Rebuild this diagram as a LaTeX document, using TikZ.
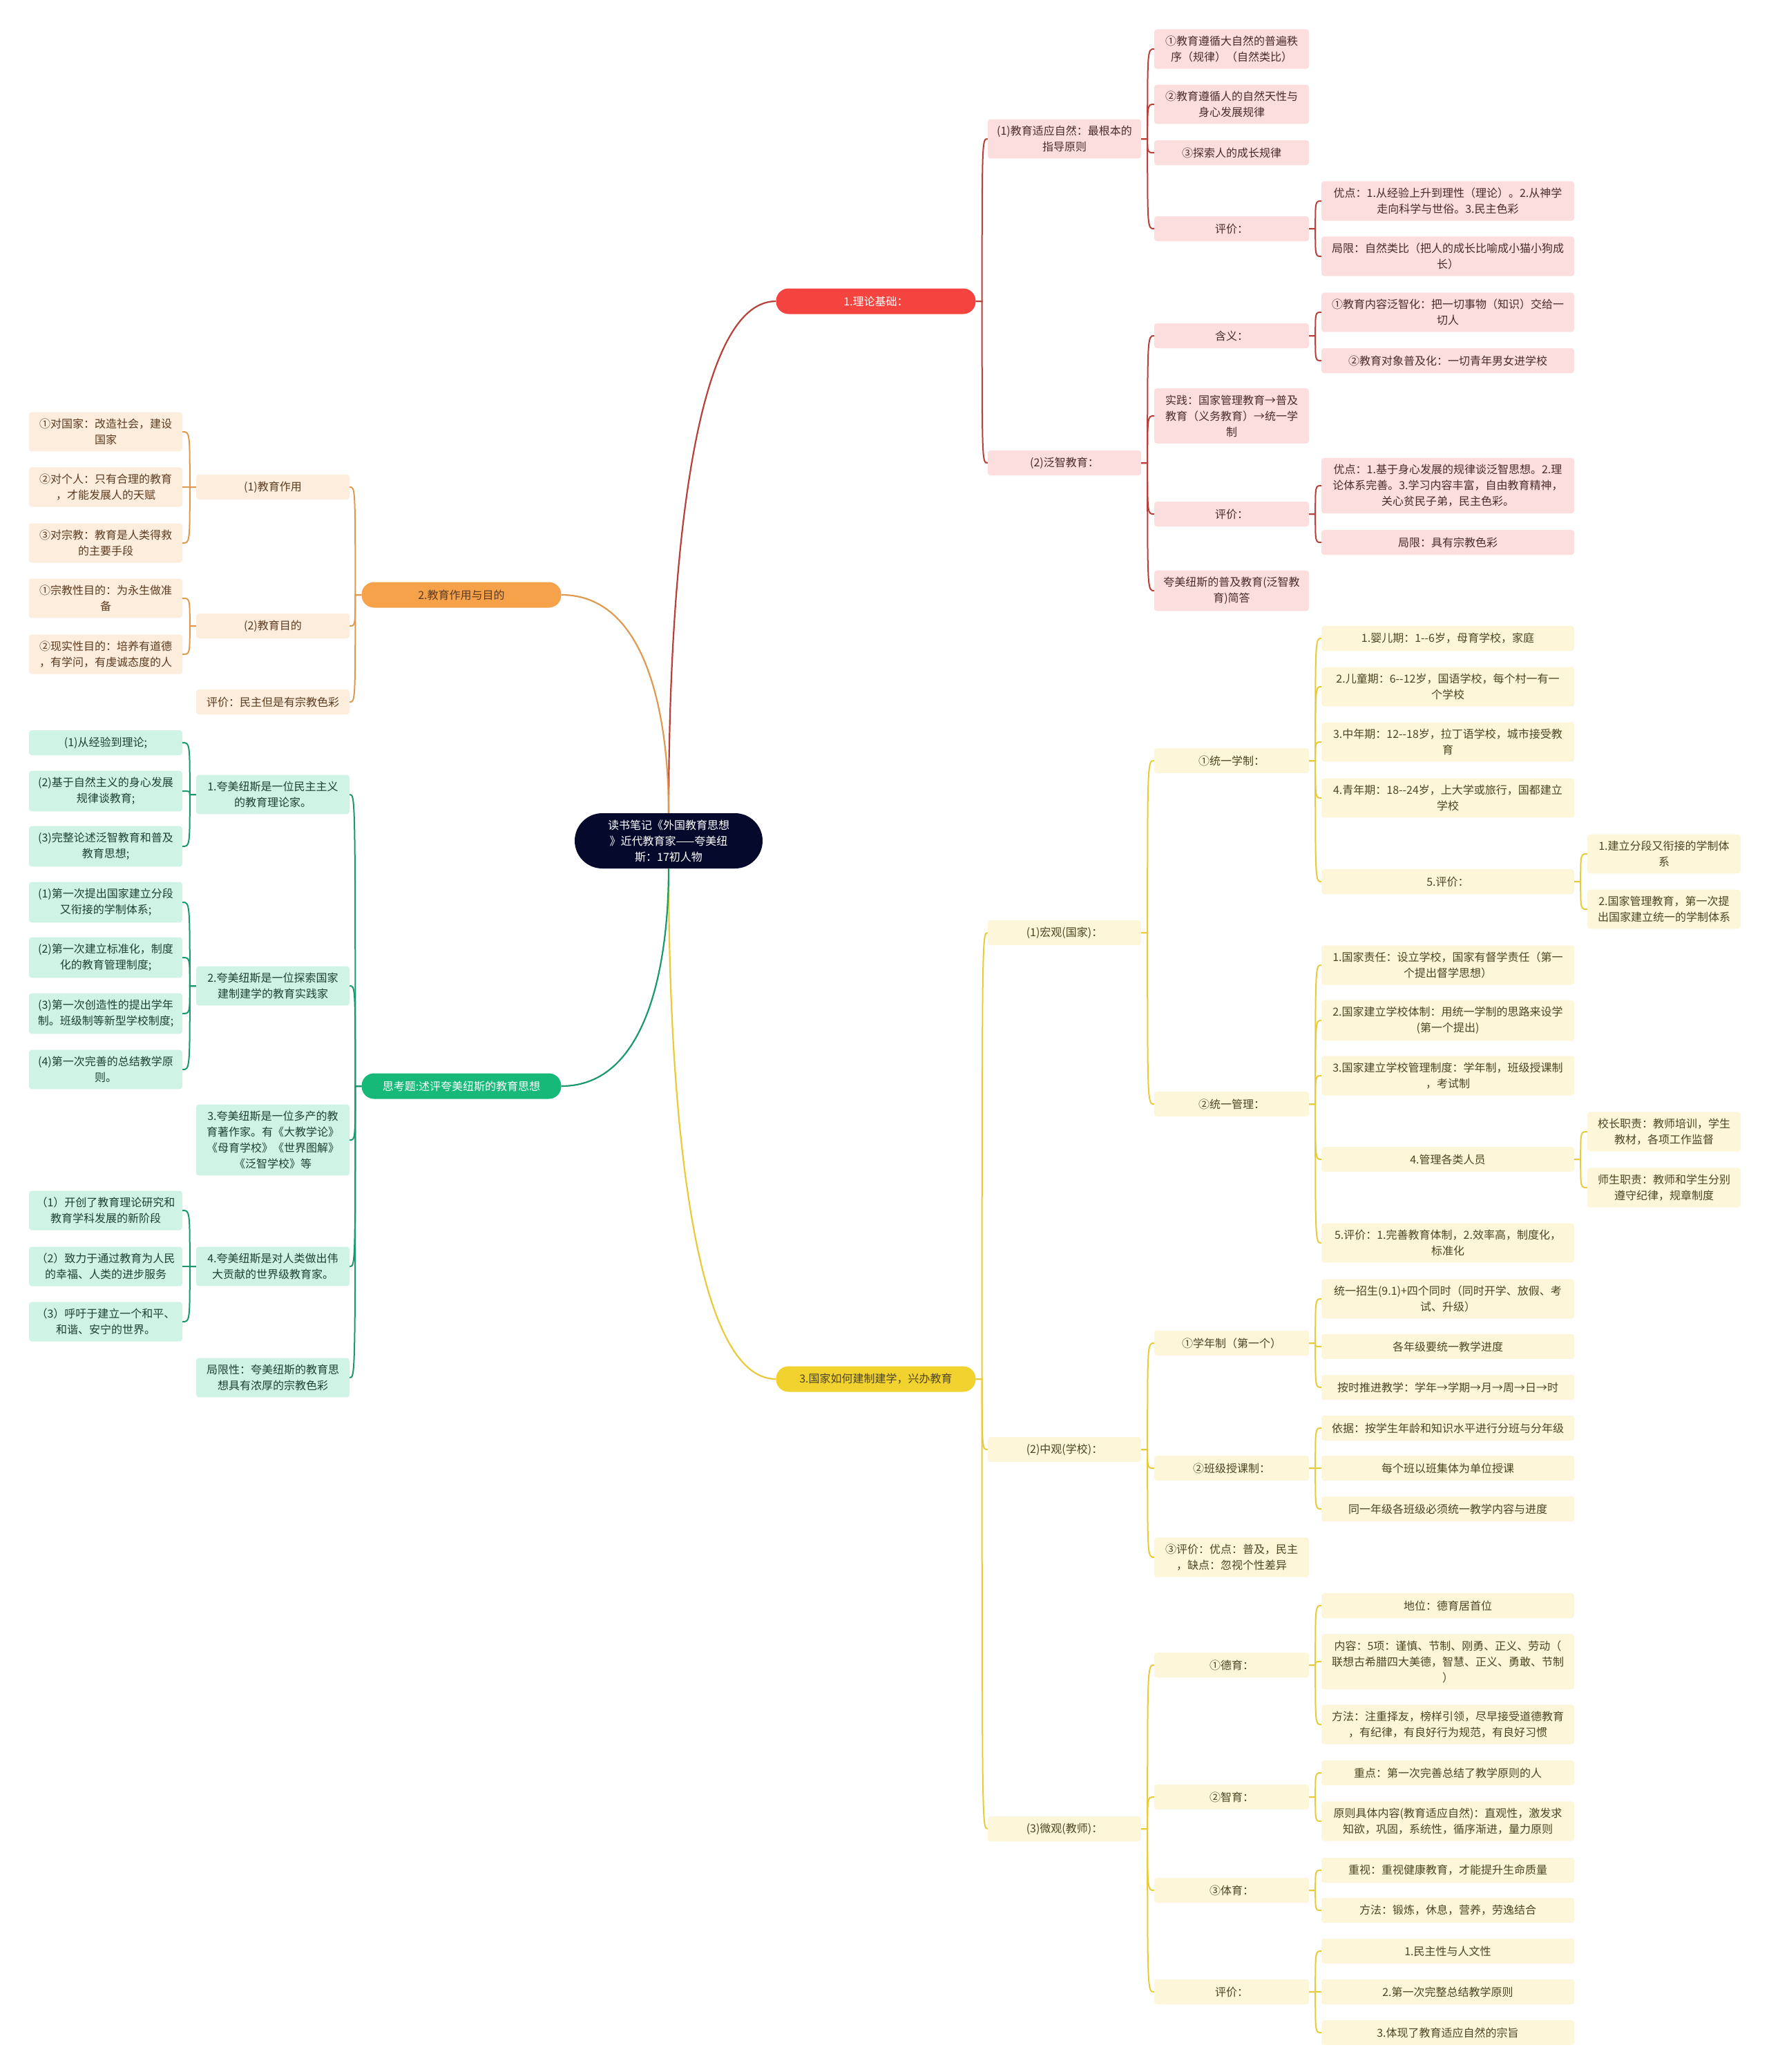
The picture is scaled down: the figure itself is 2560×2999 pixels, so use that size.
\documentclass[tikz,border=0pt]{standalone}
\usepackage{fontspec}
\setmainfont{Noto Sans CJK SC}
\usetikzlibrary{calc}
\definecolor{rmain}{HTML}{F5443F}
\definecolor{rfill}{HTML}{FDDEDE}
\definecolor{rline}{HTML}{B8403A}
\definecolor{rtext}{HTML}{4A2B2B}
\definecolor{omain}{HTML}{F5A24B}
\definecolor{ofill}{HTML}{FDEDDD}
\definecolor{oline}{HTML}{DE9A50}
\definecolor{otext}{HTML}{5C3A1E}
\definecolor{ymain}{HTML}{F2D22E}
\definecolor{yfill}{HTML}{FEF6D8}
\definecolor{yline}{HTML}{E9CB3A}
\definecolor{ytext}{HTML}{4D4420}
\definecolor{gmain}{HTML}{17B978}
\definecolor{gfill}{HTML}{CFF3E4}
\definecolor{gline}{HTML}{1A9A6C}
\definecolor{gtext}{HTML}{1E4035}
\definecolor{rootc}{HTML}{050A2D}
\newcommand\fs{\fontsize{16}{23}\selectfont}
\newcommand\rlink[3]{\path (#2.east) ++(9,0) coordinate (jj); \draw[#1] (#2.east) -- (jj) .. controls (jj |- #3.west) .. (#3.west);}
\newcommand\llink[3]{\path (#2.west) ++(-9,0) coordinate (jj); \draw[#1] (#2.west) -- (jj) .. controls (jj |- #3.east) .. (#3.east);}
\tikzset{
 bx/.style={rectangle, rounded corners=4pt, inner xsep=4pt, inner ysep=9.5pt, align=center, font=\fs, minimum height=36pt},
 wa/.style={minimum width=222pt},
 wb/.style={minimum width=224pt},
 wc/.style={minimum width=366pt},
 rb/.style={bx, fill=rfill, text=rtext},
 ob/.style={bx, fill=ofill, text=otext},
 yb/.style={bx, fill=yfill, text=ytext},
 gb/.style={bx, fill=gfill, text=gtext},
 pill/.style={rectangle, rounded corners=18pt, minimum width=289pt, minimum height=37pt, inner sep=2pt, font=\fs},
 rl/.style={rline, line width=2pt},
 ol/.style={oline, line width=2pt},
 yl/.style={yline, line width=2pt},
 gl/.style={gline, line width=2pt},
}
\begin{document}
\begin{tikzpicture}[x=1pt,y=-1pt]
\fill[white] (0,0) rectangle (2560,2999);
\useasboundingbox (0,0) rectangle (2560,2999);
% root
\node[rectangle, rounded corners=40pt, fill=rootc, text=white, minimum width=272pt, minimum height=80pt, align=center, font=\fs, inner sep=4pt] (root) at (968,1217) {读书笔记《外国教育思想\\》近代教育家——夸美纽\\斯：17初人物};
% level 1
\node[pill, fill=rmain, text=white] (r1) at (1268,436) {1.理论基础：};
\node[pill, fill=omain, text=otext] (o1) at (668,861) {2.教育作用与目的};
\node[pill, fill=ymain, text=ytext] (y1) at (1268,1996) {3.国家如何建制建学，兴办教育};
\node[pill, fill=gmain, text=white] (g1) at (668,1572) {思考题:述评夸美纽斯的教育思想};
% red
\node[rb,wa] (rA) at (1541,201) {(1)教育适应自然：最根本的\\指导原则};
\node[rb,wa] (rB) at (1541,670) {(2)泛智教育：};
\node[rb,wb] (rA1) at (1783,71) {①教育遵循大自然的普遍秩\\序（规律）（自然类比）};
\node[rb,wb] (rA2) at (1783,151) {②教育遵循人的自然天性与\\身心发展规律};
\node[rb,wb] (rA3) at (1783,221) {③探索人的成长规律};
\node[rb,wb] (rA4) at (1783,331) {评价：};
\node[rb,wc] (rA41) at (2096,291) {优点：1.从经验上升到理性（理论）。2.从神学\\走向科学与世俗。3.民主色彩};
\node[rb,wc] (rA42) at (2096,371) {局限：自然类比（把人的成长比喻成小猫小狗成\\长）};
\node[rb,wb] (rB1) at (1783,486) {含义：};
\node[rb,wb] (rB2) at (1783,602) {实践：国家管理教育→普及\\教育（义务教育）→统一学\\制};
\node[rb,wb] (rB3) at (1783,744) {评价：};
\node[rb,wb] (rB4) at (1783,855) {夸美纽斯的普及教育(泛智教\\育)简答};
\node[rb,wc] (rB11) at (2096,452) {①教育内容泛智化：把一切事物（知识）交给一\\切人};
\node[rb,wc] (rB12) at (2096,522) {②教育对象普及化：一切青年男女进学校};
\node[rb,wc] (rB31) at (2096,703) {优点：1.基于身心发展的规律谈泛智思想。2.理\\论体系完善。3.学习内容丰富，自由教育精神，\\关心贫民子弟，民主色彩。};
\node[rb,wc] (rB32) at (2096,785) {局限：具有宗教色彩};
% yellow
\node[yb,wa] (yA) at (1541,1350) {(1)宏观(国家)：};
\node[yb,wa] (yB) at (1541,2098) {(2)中观(学校)：};
\node[yb,wa] (yC) at (1541,2647) {(3)微观(教师)：};
\node[yb,wb] (yA1) at (1783,1101) {①统一学制：};
\node[yb,wb] (yA2) at (1783,1598) {②统一管理：};
\node[yb,wc] (yA11) at (2096,924) {1.婴儿期：1-{}-6岁，母育学校，家庭};
\node[yb,wc] (yA12) at (2096,994) {2.儿童期：6-{}-12岁，国语学校，每个村一有一\\个学校};
\node[yb,wc] (yA13) at (2096,1074) {3.中年期：12-{}-18岁，拉丁语学校，城市接受教\\育};
\node[yb,wc] (yA14) at (2096,1155) {4.青年期：18-{}-24岁，上大学或旅行，国都建立\\学校};
\node[yb,wc] (yA15) at (2096,1276) {5.评价：};
\node[yb,wa] (yA151) at (2409,1236) {1.建立分段又衔接的学制体\\系};
\node[yb,wa] (yA152) at (2409,1316) {2.国家管理教育，第一次提\\出国家建立统一的学制体系};
\node[yb,wc] (yA21) at (2096,1397) {1.国家责任：设立学校，国家有督学责任（第一\\个提出督学思想）};
\node[yb,wc] (yA22) at (2096,1477) {2.国家建立学校体制：用统一学制的思路来设学\\(第一个提出)};
\node[yb,wc] (yA23) at (2096,1557) {3.国家建立学校管理制度：学年制，班级授课制\\，考试制};
\node[yb,wc] (yA24) at (2096,1678) {4.管理各类人员};
\node[yb,wc] (yA25) at (2096,1799) {5.评价：1.完善教育体制，2.效率高，制度化，\\标准化};
\node[yb,wa] (yA241) at (2409,1638) {校长职责：教师培训，学生\\教材，各项工作监督};
\node[yb,wa] (yA242) at (2409,1719) {师生职责：教师和学生分别\\遵守纪律，规章制度};
\node[yb,wb] (yB1) at (1783,1944) {①学年制（第一个）};
\node[yb,wb] (yB2) at (1783,2125) {②班级授课制：};
\node[yb,wb] (yB3) at (1783,2254) {③评价：优点：普及，民主\\，缺点：忽视个性差异};
\node[yb,wc] (yB11) at (2096,1880) {统一招生(9.1)+四个同时（同时开学、放假、考\\试、升级）};
\node[yb,wc] (yB12) at (2096,1949) {各年级要统一教学进度};
\node[yb,wc] (yB13) at (2096,2008) {按时推进教学：学年→学期→月→周→日→时};
\node[yb,wc] (yB21) at (2096,2067) {依据：按学生年龄和知识水平进行分班与分年级};
\node[yb,wc] (yB22) at (2096,2125) {每个班以班集体为单位授课};
\node[yb,wc] (yB23) at (2096,2184) {同一年级各班级必须统一教学内容与进度};
\node[yb,wb] (yC1) at (1783,2410) {①德育：};
\node[yb,wb] (yC2) at (1783,2601) {②智育：};
\node[yb,wb] (yC3) at (1783,2736) {③体育：};
\node[yb,wb] (yC4) at (1783,2883) {评价：};
\node[yb,wc] (yC11) at (2096,2324) {地位：德育居首位};
\node[yb,wc] (yC12) at (2096,2405) {内容：5项：谨慎、节制、刚勇、正义、劳动（\\联想古希腊四大美德，智慧、正义、勇敢、节制\\）};
\node[yb,wc] (yC13) at (2096,2496) {方法：注重择友，榜样引领，尽早接受道德教育\\，有纪律，有良好行为规范，有良好习惯};
\node[yb,wc] (yC21) at (2096,2566) {重点：第一次完善总结了教学原则的人};
\node[yb,wc] (yC22) at (2096,2636) {原则具体内容(教育适应自然)：直观性，激发求\\知欲，巩固，系统性，循序渐进，量力原则};
\node[yb,wc] (yC31) at (2096,2707) {重视：重视健康教育，才能提升生命质量};
\node[yb,wc] (yC32) at (2096,2765) {方法：锻炼，休息，营养，劳逸结合};
\node[yb,wc] (yC41) at (2096,2824) {1.民主性与人文性};
\node[yb,wc] (yC42) at (2096,2883) {2.第一次完整总结教学原则};
\node[yb,wc] (yC43) at (2096,2942) {3.体现了教育适应自然的宗旨};
% orange
\node[ob,wa] (oA) at (395,705) {(1)教育作用};
\node[ob,wa] (oB) at (395,906) {(2)教育目的};
\node[ob,wa] (oC) at (395,1016) {评价：民主但是有宗教色彩};
\node[ob,wa] (oA1) at (153,625) {①对国家：改造社会，建设\\国家};
\node[ob,wa] (oA2) at (153,705) {②对个人：只有合理的教育\\，才能发展人的天赋};
\node[ob,wa] (oA3) at (153,786) {③对宗教：教育是人类得救\\的主要手段};
\node[ob,wa] (oB1) at (153,866) {①宗教性目的：为永生做准\\备};
\node[ob,wa] (oB2) at (153,947) {②现实性目的：培养有道德\\，有学问，有虔诚态度的人};
% green
\node[gb,wa] (gA) at (395,1150) {1.夸美纽斯是一位民主主义\\的教育理论家。};
\node[gb,wa] (gB) at (395,1427) {2.夸美纽斯是一位探索国家\\建制建学的教育实践家};
\node[gb,wa] (gC) at (395,1650) {3.夸美纽斯是一位多产的教\\育著作家。有《大教学论》\\《母育学校》《世界图解》\\《泛智学校》等};
\node[gb,wa] (gD) at (395,1833) {4.夸美纽斯是对人类做出伟\\大贡献的世界级教育家。};
\node[gb,wa] (gE) at (395,1994) {局限性：夸美纽斯的教育思\\想具有浓厚的宗教色彩};
\node[gb,wa] (gA1) at (153,1075) {(1)从经验到理论;};
\node[gb,wa] (gA2) at (153,1145) {(2)基于自然主义的身心发展\\规律谈教育;};
\node[gb,wa] (gA3) at (153,1225) {(3)完整论述泛智教育和普及\\教育思想;};
\node[gb,wa] (gB1) at (153,1306) {(1)第一次提出国家建立分段\\又衔接的学制体系;};
\node[gb,wa] (gB2) at (153,1386) {(2)第一次建立标准化，制度\\化的教育管理制度;};
\node[gb,wa] (gB3) at (153,1467) {(3)第一次创造性的提出学年\\制。班级制等新型学校制度;};
\node[gb,wa] (gB4) at (153,1548) {(4)第一次完善的总结教学原\\则。};
\node[gb,wa] (gD1) at (153,1752) {（1）开创了教育理论研究和\\教育学科发展的新阶段};
\node[gb,wa] (gD2) at (153,1833) {（2）致力于通过教育为人民\\的幸福、人类的进步服务};
\node[gb,wa] (gD3) at (153,1913) {（3）呼吁于建立一个和平、\\和谐、安宁的世界。};
% root connectors
\draw[rl, line width=2.2pt] (root.north) .. controls (968,851) and (999,436) .. (r1.west);
\draw[yl, line width=2.2pt] (root.south) .. controls (968,1582) and (999,1996) .. (y1.west);
\draw[ol, line width=2.2pt] (root.north) .. controls (968,1038) and (937,861) .. (o1.east);
\draw[gl, line width=2.2pt] (root.south) .. controls (968,1396) and (937,1572) .. (g1.east);
% red links
\foreach \c in {rA,rB} {\rlink{rl}{r1}{\c}}
\foreach \c in {rA1,rA2,rA3,rA4} {\rlink{rl}{rA}{\c}}
\foreach \c in {rA41,rA42} {\rlink{rl}{rA4}{\c}}
\foreach \c in {rB1,rB2,rB3,rB4} {\rlink{rl}{rB}{\c}}
\foreach \c in {rB11,rB12} {\rlink{rl}{rB1}{\c}}
\foreach \c in {rB31,rB32} {\rlink{rl}{rB3}{\c}}
% yellow links
\foreach \c in {yA,yB,yC} {\rlink{yl}{y1}{\c}}
\foreach \c in {yA1,yA2} {\rlink{yl}{yA}{\c}}
\foreach \c in {yA11,yA12,yA13,yA14,yA15} {\rlink{yl}{yA1}{\c}}
\foreach \c in {yA151,yA152} {\rlink{yl}{yA15}{\c}}
\foreach \c in {yA21,yA22,yA23,yA24,yA25} {\rlink{yl}{yA2}{\c}}
\foreach \c in {yA241,yA242} {\rlink{yl}{yA24}{\c}}
\foreach \c in {yB1,yB2,yB3} {\rlink{yl}{yB}{\c}}
\foreach \c in {yB11,yB12,yB13} {\rlink{yl}{yB1}{\c}}
\foreach \c in {yB21,yB22,yB23} {\rlink{yl}{yB2}{\c}}
\foreach \c in {yC1,yC2,yC3,yC4} {\rlink{yl}{yC}{\c}}
\foreach \c in {yC11,yC12,yC13} {\rlink{yl}{yC1}{\c}}
\foreach \c in {yC21,yC22} {\rlink{yl}{yC2}{\c}}
\foreach \c in {yC31,yC32} {\rlink{yl}{yC3}{\c}}
\foreach \c in {yC41,yC42,yC43} {\rlink{yl}{yC4}{\c}}
% orange links
\foreach \c in {oA,oB,oC} {\llink{ol}{o1}{\c}}
\foreach \c in {oA1,oA2,oA3} {\llink{ol}{oA}{\c}}
\foreach \c in {oB1,oB2} {\llink{ol}{oB}{\c}}
% green links
\foreach \c in {gA,gB,gC,gD,gE} {\llink{gl}{g1}{\c}}
\foreach \c in {gA1,gA2,gA3} {\llink{gl}{gA}{\c}}
\foreach \c in {gB1,gB2,gB3,gB4} {\llink{gl}{gB}{\c}}
\foreach \c in {gD1,gD2,gD3} {\llink{gl}{gD}{\c}}
\end{tikzpicture}
\end{document}
